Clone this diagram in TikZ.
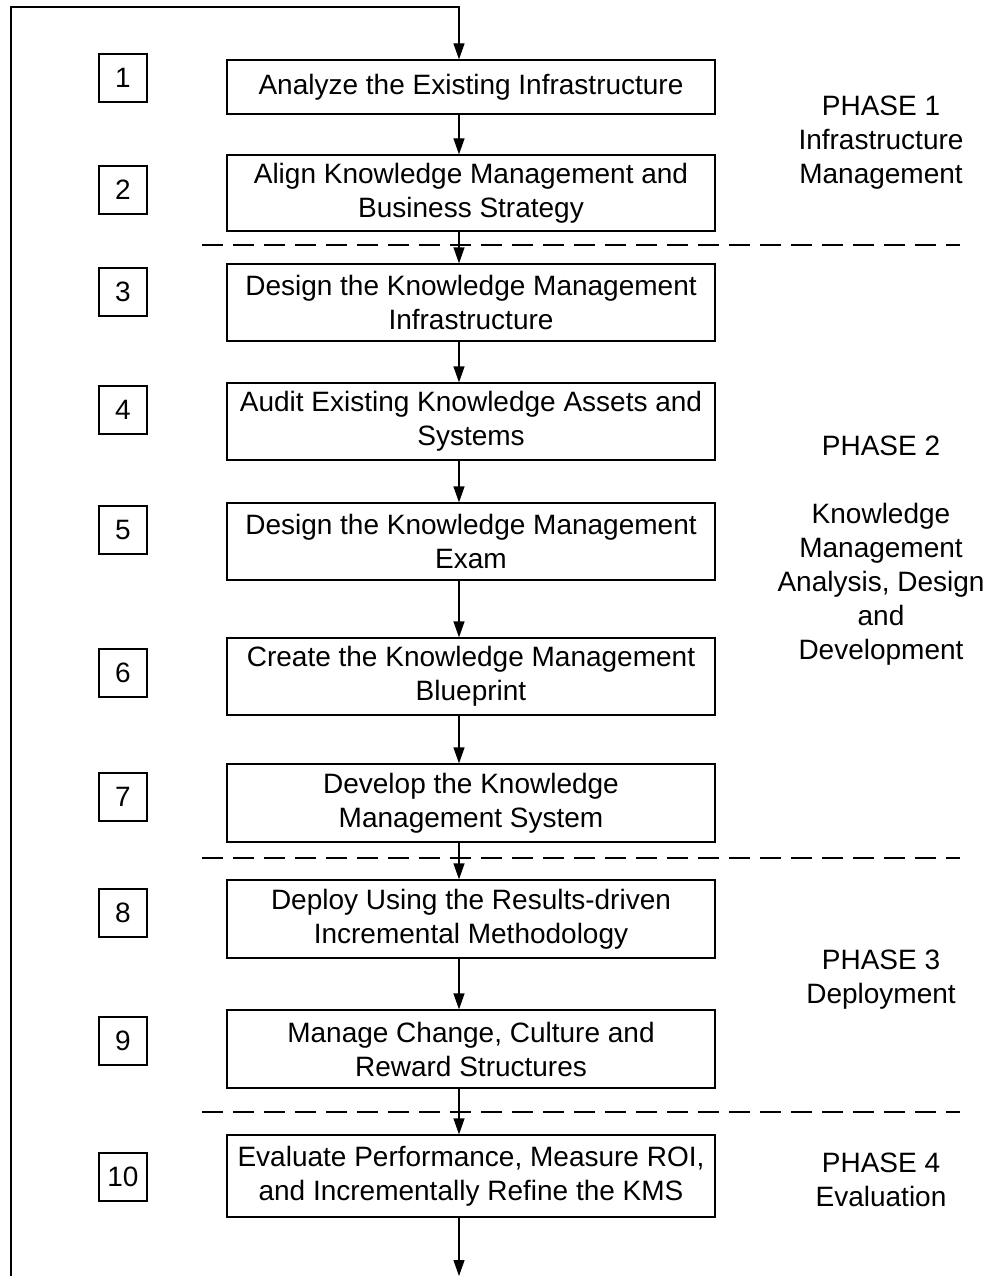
\documentclass[tikz,border=0pt]{standalone}
\usepackage{fontspec}
\setmainfont{Liberation Sans}
\usetikzlibrary{arrows.meta}
\begin{document}
\begin{tikzpicture}[x=1pt,y=-1pt,
  line width=1.3pt,
  txt/.style={font=\fontsize{28}{34}\selectfont},
  stepbox/.style={draw,txt,align=center,minimum width=488pt,inner sep=0pt},
  numbox/.style={draw,txt,minimum width=48pt,minimum height=48pt,inner sep=0pt},
  phase/.style={txt,align=center,inner sep=0pt},
  flow/.style={-{Triangle[length=16pt,width=11pt]}},
  sep/.style={dash pattern=on 21pt off 10pt}]
\useasboundingbox (0,0) rectangle (989,1276);

% column that carries the flow arrows
\coordinate (col) at (459,0);

% process steps
\node[stepbox,minimum height=54pt] (s1) at (471,87) {Analyze the Existing Infrastructure};
\node[stepbox,minimum height=76pt] (s2) at (471,193) {Align Knowledge Management and\\Business Strategy};
\node[stepbox,minimum height=77pt] (s3) at (471,302.5) {Design the Knowledge Management\\Infrastructure};
\node[stepbox,minimum height=77pt] (s4) at (471,421.5) {Audit Existing Knowledge Assets and\\Systems};
\node[stepbox,minimum height=77pt] (s5) at (471,541.5) {Design the Knowledge Management\\Exam};
\node[stepbox,minimum height=77pt] (s6) at (471,676.5) {Create the Knowledge Management\\Blueprint};
\node[stepbox,minimum height=78pt] (s7) at (471,803) {Develop the Knowledge\\Management System};
\node[stepbox,minimum height=78pt] (s8) at (471,919) {Deploy Using the Results-driven\\Incremental Methodology};
\node[stepbox,minimum height=78pt] (s9) at (471,1049) {Manage Change, Culture and\\Reward Structures};
\node[stepbox,minimum height=82pt] (s10) at (471,1176) {Evaluate Performance, Measure ROI,\\and Incrementally Refine the KMS};

% step numbers
\node[numbox] (n1) at (123,78) {1};
\node[numbox] (n2) at (123,190) {2};
\node[numbox] (n3) at (123,292) {3};
\node[numbox] (n4) at (123,410) {4};
\node[numbox] (n5) at (123,530) {5};
\node[numbox] (n6) at (123,673) {6};
\node[numbox] (n7) at (123,797) {7};
\node[numbox] (n8) at (123,913) {8};
\node[numbox] (n9) at (123,1041) {9};
\node[numbox] (n10) at (123,1177) {10};

% phase labels
\node[phase] (p1) at (881,143) {PHASE 1\\Infrastructure\\Management};
\node[phase] (p2a) at (881,446) {PHASE 2};
\node[phase] (p2b) at (881,584) {Knowledge\\Management\\Analysis, Design\\and\\Development};
\node[phase] (p3) at (881,980) {PHASE 3\\Deployment};
\node[phase] (p4) at (881,1180) {PHASE 4\\Evaluation};

% phase separators
\coordinate (d1l) at (202,245); \coordinate (d1r) at (960,245);
\coordinate (d2l) at (202,858); \coordinate (d2r) at (960,858);
\coordinate (d3l) at (202,1112); \coordinate (d3r) at (960,1112);
\draw[sep] (d1l) -- (d1r);
\draw[sep] (d2l) -- (d2r);
\draw[sep] (d3l) -- (d3r);

% flow between steps
\foreach \a/\b in {s1/s2,s2/s3,s3/s4,s4/s5,s5/s6,s6/s7,s7/s8,s8/s9,s9/s10}
  \draw[flow] (\a.south -| col) -- (\b.north -| col);

% feedback loop from the bottom back to the first step
\coordinate (loopbot) at (11,1276);
\coordinate (looptl) at (11,7);
\coordinate (looptr) at (459,7);
\coordinate (outend) at (459,1276);
\draw[flow] (s10.south -| col) -- (outend);
\draw[flow] (loopbot) -- (looptl) -- (looptr) -- (s1.north -| col);
\end{tikzpicture}
\end{document}
